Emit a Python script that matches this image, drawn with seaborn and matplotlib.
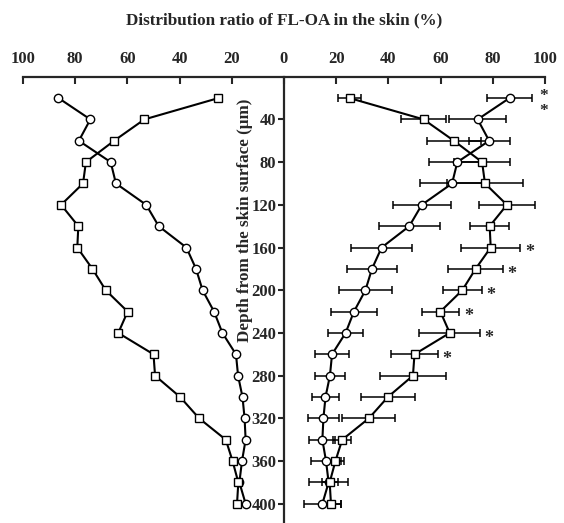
import numpy as np
import pandas as pd
import matplotlib
matplotlib.use("Agg")
import matplotlib.pyplot as plt
import seaborn as sns

# ---------------- data ----------------
depth = [20, 40, 60, 80, 100, 120, 140, 160, 180, 200,
         220, 240, 260, 280, 300, 320, 340, 360, 380, 400]
circle_mean = [86.4, 74.2, 78.6, 66.4, 64.4, 52.8, 48.0, 37.4, 33.7, 31.2,
               26.8, 23.6, 18.4, 17.6, 15.9, 15.1, 14.7, 16.1, 17.1, 14.7]
circle_sd = [8.5, 10.9, 7.8, 10.8, 12.2, 11.1, 11.6, 11.8, 9.5, 10.3,
             8.7, 6.6, 6.5, 5.7, 5.0, 5.8, 5.0, 5.6, 7.6, 7.2]
square_mean = [25.1, 53.5, 65.1, 75.9, 77.0, 85.4, 78.8, 79.2, 73.4, 68.3,
               59.9, 63.5, 50.0, 49.4, 39.8, 32.5, 22.3, 19.7, 17.5, 18.0]
square_sd = [4.5, 8.7, 10.5, 10.6, 14.5, 10.7, 7.5, 11.4, 10.4, 7.4,
             7.2, 11.6, 8.9, 12.6, 10.4, 10.1, 3.5, 3.4, 3.0, 3.7]
sig_depths = [160, 180, 200, 220, 240, 260]
x_tick_values = [-100, -80, -60, -40, -20, 0, 20, 40, 60, 80, 100]
x_tick_labels = ["100", "80", "60", "40", "20", "0", "20", "40", "60", "80", "100"]
y_tick_values = [40, 80, 120, 160, 200, 240, 280, 320, 360, 400]
title_text = "Distribution ratio of FL-OA in the skin (%)"
ylabel_text = "Depth from the skin surface (\u03bcm)"

# ---------------- style ----------------
sns.set_style("ticks")
plt.rcParams["font.family"] = ["Liberation Serif", "DejaVu Serif"]
plt.rcParams["font.weight"] = "bold"

fig = plt.figure(figsize=(5.64, 5.23), dpi=100)
ax = fig.add_axes([23 / 564, 0.0, 522 / 564, 446.3 / 523])

df = pd.DataFrame({"depth": depth,
                   "circle": circle_mean, "circle_sd": circle_sd,
                   "square": square_mean, "square_sd": square_sd})

# error bars (right half only)
for col, sdcol in (("circle", "circle_sd"), ("square", "square_sd")):
    ax.errorbar(df[col], df["depth"], xerr=df[sdcol], fmt="none",
                ecolor="black", elinewidth=1.1, capsize=2.6, capthick=1.1,
                zorder=1)

line_kw = dict(color="black", lw=1.5, mfc="white", mec="black", mew=1.0,
               sort=False, estimator=None, orient="y", legend=False, ax=ax)
for sign in (-1, 1):
    sns.lineplot(x=sign * df["circle"], y=df["depth"], marker="o", ms=6.0,
                 zorder=3, **line_kw)
    sns.lineplot(x=sign * df["square"], y=df["depth"], marker="s", ms=5.8,
                 zorder=3, **line_kw)

# significance stars
sq = df.set_index("depth")
for d in sig_depths:
    xs = sq.loc[d, "square"] + sq.loc[d, "square_sd"] + 3.5
    ax.annotate("*", xy=(xs, d), xytext=(0, -7), textcoords="offset points",
                ha="center", va="baseline", fontsize=13, fontweight="bold",
                annotation_clip=False)
# double star at the first depth
ax.annotate("*\n*", xy=(99.5, 20.5), xytext=(0, -3.5),
            textcoords="offset points", ha="center", va="center",
            fontsize=12.5, fontweight="bold", linespacing=0.85,
            annotation_clip=False)

# axes styling
ax.set_xlim(-100, 100)
ax.set_ylim(418, 0)
ax.spines["bottom"].set_visible(False)
ax.spines["right"].set_visible(False)
ax.spines["left"].set_position(("data", 0))
for s in ("top", "left"):
    ax.spines[s].set_linewidth(1.6)
ax.xaxis.tick_top()
ax.set_xticks(x_tick_values)
ax.set_xticklabels(x_tick_labels)
ax.set_yticks(y_tick_values)
ax.tick_params(axis="x", direction="in", length=5, width=1.5, pad=7,
               labelsize=12)
ax.tick_params(axis="y", direction="out", length=4, width=1.5, pad=1.5,
               labelsize=12)
for lab in ax.get_xticklabels() + ax.get_yticklabels():
    lab.set_fontweight("bold")
ax.set_xlabel("")
ax.set_ylabel("")

fig.text(284.5 / 564, 1 - 20 / 523, title_text, ha="center", va="center",
         fontsize=12.3, fontweight="bold")
fig.text(245 / 564, 1 - 220 / 523, ylabel_text, ha="center", va="center",
         rotation=90, fontsize=12.3, fontweight="bold")

fig.savefig("out.png", dpi=100)
